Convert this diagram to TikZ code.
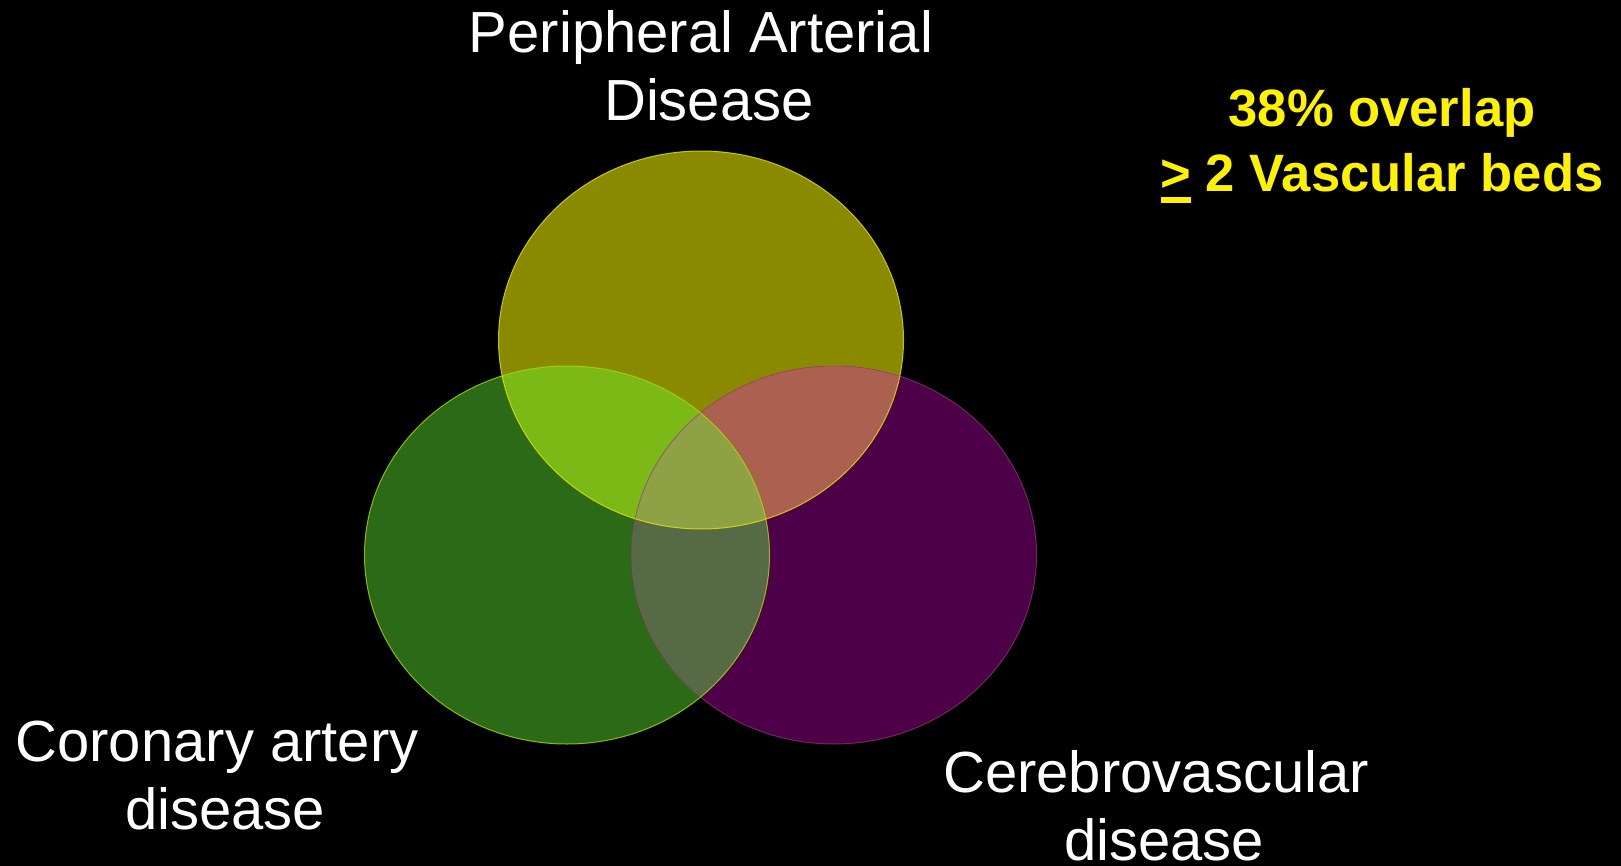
\documentclass[tikz,border=0pt]{standalone}
\usepackage{fontspec}
\setmainfont{Liberation Sans}
\definecolor{cTop}{HTML}{8A8A00}
\definecolor{cLeft}{HTML}{2B6A17}
\definecolor{cRight}{HTML}{4D0047}
\definecolor{cTL}{HTML}{7AB916}
\definecolor{cTR}{HTML}{AC604F}
\definecolor{cLR}{HTML}{566B45}
\definecolor{cTLR}{HTML}{8FA145}
\definecolor{eTop}{HTML}{E6E600}
\definecolor{eLeft}{HTML}{A8DC00}
\definecolor{eRight}{HTML}{A0407F}
\newcommand\ulgt{\setbox0=\hbox{>}\rlap{\rule[-11pt]{\wd0}{6pt}}\box0}
\newcommand\tsp{\hspace*{16pt}}
\tikzset{
  bigwhite/.style={text=white, align=center, inner sep=0pt, anchor=north,
    font=\fontsize{58}{68}\selectfont},
  bigyellow/.style={text=yellow, align=center, inner sep=0pt, anchor=north,
    font=\fontsize{52.6}{65}\selectfont\bfseries},
  ell/.style={x radius=202.5pt, y radius=189pt},
  rim/.style={line width=1pt, draw opacity=0.8}
}
\begin{document}
\begin{tikzpicture}[x=1pt,y=-1pt]
\useasboundingbox (0,0) rectangle (1621,866);
\fill[black] (0,0) rectangle (1621,866);
\coordinate (T) at (701,340);
\coordinate (L) at (567,555);
\coordinate (R) at (834,555);
% single regions
\fill[cTop] (T) ellipse [ell];
\fill[cLeft] (L) ellipse [ell];
\fill[cRight] (R) ellipse [ell];
% pairwise
\begin{scope}\clip (T) ellipse [ell]; \fill[cTL] (L) ellipse [ell];\end{scope}
\begin{scope}\clip (T) ellipse [ell]; \fill[cTR] (R) ellipse [ell];\end{scope}
\begin{scope}\clip (L) ellipse [ell]; \fill[cLR] (R) ellipse [ell];\end{scope}
% triple
\begin{scope}\clip (T) ellipse [ell]; \clip (L) ellipse [ell]; \fill[cTLR] (R) ellipse [ell];\end{scope}
% rims
\draw[rim, eRight, draw opacity=0.6] (R) ellipse [ell];
\draw[rim, eLeft] (L) ellipse [ell];
\draw[rim, eTop] (T) ellipse [ell];
% labels
\node[bigwhite] (pad) at (709,6.3) {\rule{0pt}{46pt}Peripheral Arterial\tsp\\Disease};
\node[bigwhite] (cad) at (225,715.7) {\rule{0pt}{46pt}Coronary artery\tsp\\disease};
\node[bigwhite] (cvd) at (1164,746) {\rule{0pt}{46pt}Cerebrovascular\tsp\\disease};
\node[bigyellow] (ovl) at (1382,84.7) {\rule{0pt}{42pt}38\% overlap\\\ulgt{} 2 Vascular beds};
\end{tikzpicture}
\end{document}
